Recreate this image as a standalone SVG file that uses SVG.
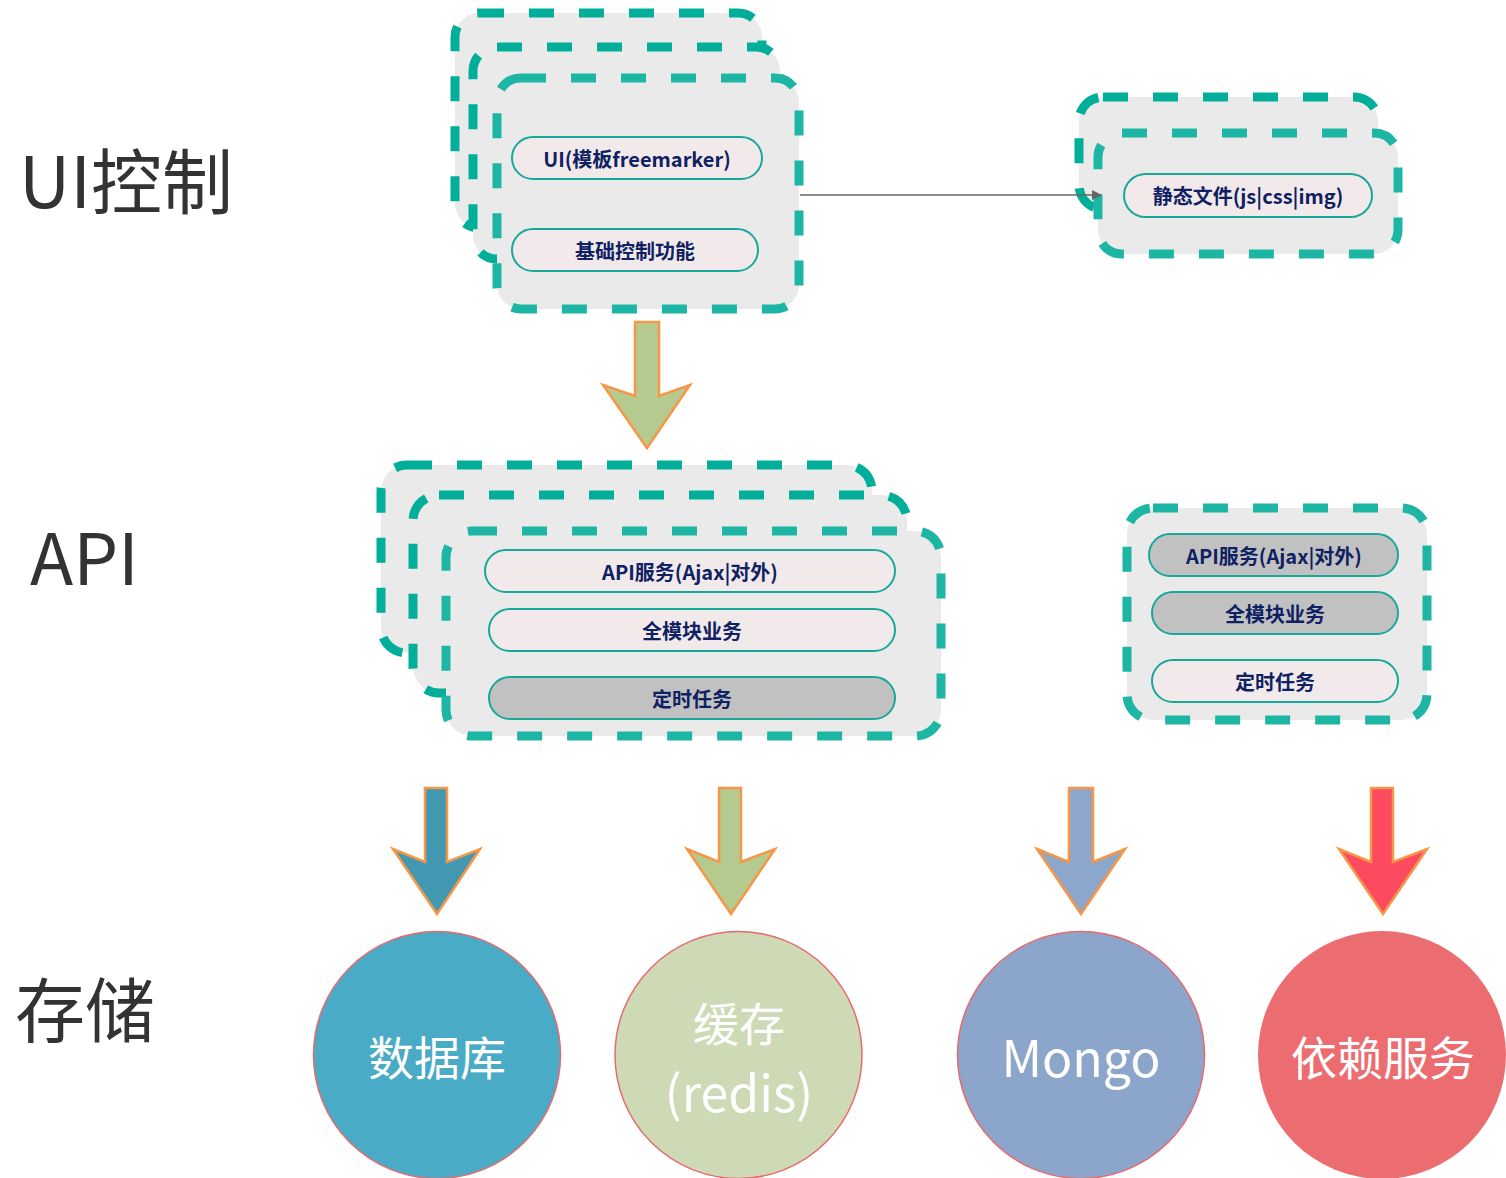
<svg xmlns="http://www.w3.org/2000/svg" width="1506" height="1178" viewBox="0 0 1506 1178">
<defs>
<style>
.bg{fill:#fff}
.box{fill:#EAEAEA;stroke-width:9;stroke-dasharray:25 25}
.dk{stroke:#00AE9A}
.lt{stroke:#1DB6A4}
.pill{stroke:#17A89A;stroke-width:2}
.pk{fill:#F2EAEA}
.gy{fill:#C1C1C1}
.pt{font-family:"Noto Sans CJK SC","Noto Sans",sans-serif;font-weight:700;font-size:20px;fill:#0F2163;text-anchor:middle;dominant-baseline:central}
.lbl{font-family:"Noto Sans CJK SC","Noto Sans",sans-serif;font-size:71px;fill:#333333}
.ct{font-family:"Noto Sans CJK SC","Noto Sans",sans-serif;font-size:46px;fill:#FFFFFF;text-anchor:middle;dominant-baseline:central}
.arr{stroke:#F79646;stroke-width:2.5;stroke-linejoin:miter}
.circ{stroke:#E9696D;stroke-width:1.5}
</style>
<marker id="ah" viewBox="0 0 10 10" refX="9" refY="5" markerWidth="10" markerHeight="10" markerUnits="userSpaceOnUse" orient="auto">
<path d="M0,0 L10,5 L0,10 z" fill="#666"/>
</marker>
</defs>
<rect class="bg" x="0" y="0" width="1506" height="1178"/>

<g id="labels">
<text class="lbl" x="19" y="208">UI控制</text>
<text class="lbl" x="30" y="585">API</text>
<text class="lbl" x="15" y="1037" style="font-size:70px">存储</text>
</g>

<g id="ui-stack">
<rect class="box dk" x="455" y="13" width="307" height="215" rx="24"/>
<rect class="box dk" x="473" y="47" width="307" height="212" rx="24"/>
<rect class="box lt" x="497" y="78" width="302" height="231" rx="24"/>
<g id="ui-template">
<rect class="pill pk" x="512" y="137" width="250" height="42" rx="21"/>
<text class="pt" x="637" y="158">UI(模板freemarker)</text>
</g>
<g id="ui-basic">
<rect class="pill pk" x="512" y="229" width="246" height="42" rx="21"/>
<text class="pt" x="635" y="250">基础控制功能</text>
</g>
</g>

<g id="static-stack">
<rect class="box dk" x="1079" y="97" width="299" height="112" rx="24"/>
<rect class="box lt" x="1098" y="133" width="300" height="121" rx="24"/>
<g id="static-files">
<rect class="pill pk" x="1124" y="174" width="248" height="43" rx="21.5"/>
<text class="pt" x="1248" y="195">静态文件(js|css|img)</text>
</g>
</g>

<g id="api-stack">
<rect class="box dk" x="381" y="465" width="491" height="188" rx="26"/>
<rect class="box dk" x="413" y="495" width="494" height="198" rx="26"/>
<rect class="box lt" x="446" y="531" width="495" height="205" rx="26"/>
<g id="api-service">
<rect class="pill pk" x="485" y="550" width="410" height="42" rx="21"/>
<text class="pt" x="690" y="571">API服务(Ajax|对外)</text>
</g>
<g id="api-modules">
<rect class="pill pk" x="489" y="609" width="406" height="42" rx="21"/>
<text class="pt" x="692" y="630">全模块业务</text>
</g>
<g id="api-timer">
<rect class="pill gy" x="489" y="677" width="406" height="42" rx="21"/>
<text class="pt" x="692" y="698">定时任务</text>
</g>
</g>

<g id="api-right">
<rect class="box lt" x="1127" y="508" width="300" height="212" rx="26"/>
<g id="api2-service">
<rect class="pill gy" x="1149" y="534" width="249" height="42" rx="21"/>
<text class="pt" x="1274" y="555">API服务(Ajax|对外)</text>
</g>
<g id="api2-modules">
<rect class="pill gy" x="1152" y="592" width="246" height="42" rx="21"/>
<text class="pt" x="1275" y="613">全模块业务</text>
</g>
<g id="api2-timer">
<rect class="pill pk" x="1152" y="660" width="246" height="42" rx="21"/>
<text class="pt" x="1275" y="681">定时任务</text>
</g>
</g>

<g id="connectors">
<line x1="800" y1="195" x2="1101" y2="195" stroke="#666" stroke-width="1.5" marker-end="url(#ah)"/>
<polygon class="arr" fill="#B5CA8E" points="635,322 659,322 659,396 690,385 647,448 603,385 635,396"/>
<polygon class="arr" fill="#4198B0" points="425,788 447,788 447,862 480,849 437,914 393,849 425,862"/>
<polygon class="arr" fill="#B5CA8E" points="719,788 741,788 741,862 775,849 731,914 687,849 719,862"/>
<polygon class="arr" fill="#8DA6CB" points="1069,788 1093,788 1093,862 1125,849 1081,914 1037,849 1069,862"/>
<polygon class="arr" fill="#FC4A5E" points="1371,788 1393,788 1393,862 1427,849 1383,914 1339,849 1371,862"/>
</g>

<g id="db">
<circle class="circ" cx="437" cy="1055" r="123.5" fill="#4AABC6"/>
<text class="ct" x="437" y="1055">数据库</text>
</g>
<g id="cache">
<circle class="circ" cx="738.5" cy="1055" r="123.5" fill="#CDDAB5"/>
<text class="ct" x="739" y="1021">缓存</text>
<text class="ct" x="739" y="1090" style="font-size:50px">(redis)</text>
</g>
<g id="mongo">
<circle class="circ" cx="1081" cy="1055" r="123.5" fill="#8CA5CA"/>
<text class="ct" x="1081" y="1055" style="font-size:50px">Mongo</text>
</g>
<g id="deps">
<circle cx="1382" cy="1055" r="124" fill="#EB6D70"/>
<text class="ct" x="1383" y="1055">依赖服务</text>
</g>
</svg>
